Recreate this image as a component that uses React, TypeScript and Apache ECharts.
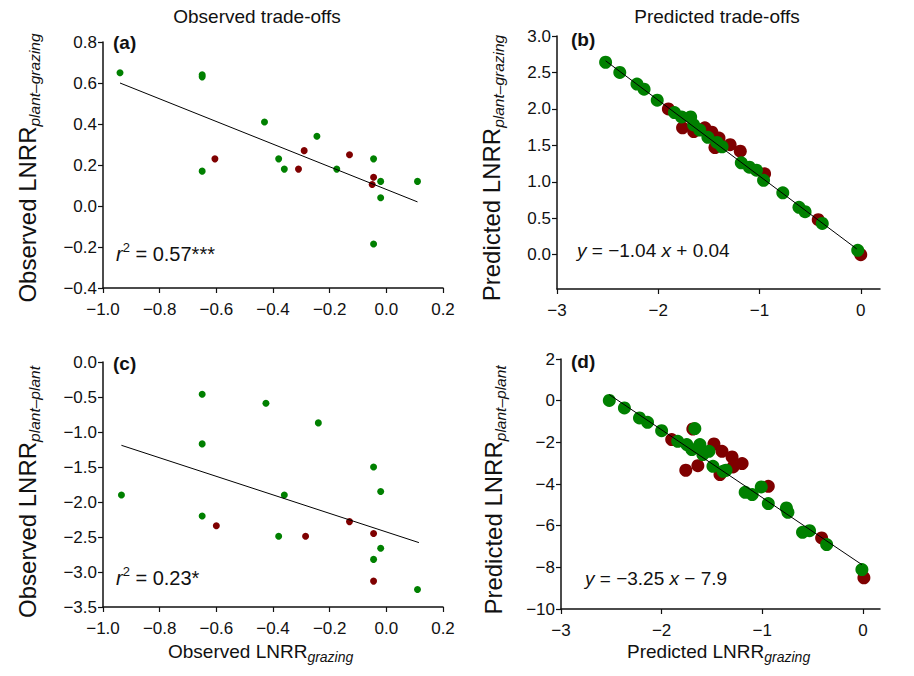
import React, { useEffect, useRef } from "react";
import * as echarts from "echarts";

// ---- data ----
const aGreen: number[][] = [
  [-0.94, 0.65], [-0.65, 0.64], [-0.65, 0.63], [-0.65, 0.17], [-0.43, 0.41],
  [-0.38, 0.23], [-0.36, 0.18], [-0.245, 0.34], [-0.175, 0.18], [-0.045, 0.23],
  [-0.02, 0.12], [-0.02, 0.04], [0.11, 0.12], [-0.045, -0.185],
];
const aRed: number[][] = [
  [-0.605, 0.23], [-0.29, 0.27], [-0.31, 0.18], [-0.13, 0.25], [-0.045, 0.14], [-0.05, 0.105],
];
const aLine: number[][] = [[-0.94, 0.6], [0.11, 0.02]];

const cGreen: number[][] = [
  [-0.65, -0.46], [-0.425, -0.59], [-0.24, -0.87], [-0.65, -1.17], [-0.045, -1.5],
  [-0.02, -1.85], [-0.935, -1.9], [-0.36, -1.9], [-0.65, -2.2], [-0.38, -2.49],
  [-0.02, -2.66], [-0.045, -2.82], [0.11, -3.25],
];
const cRed: number[][] = [
  [-0.6, -2.34], [-0.285, -2.49], [-0.13, -2.28], [-0.045, -2.45], [-0.045, -3.13],
];
const cLine: number[][] = [[-0.935, -1.19], [0.115, -2.58]];

const bGreen: number[][] = [
  [-2.52, 2.64], [-2.38, 2.5], [-2.21, 2.34], [-2.14, 2.27], [-2.01, 2.12],
  [-1.84, 1.95], [-1.77, 1.89], [-1.68, 1.89], [-1.65, 1.78], [-1.59, 1.71],
  [-1.51, 1.61], [-1.42, 1.54], [-1.37, 1.48], [-1.18, 1.26], [-1.1, 1.2],
  [-1.03, 1.16], [-0.96, 1.02], [-0.77, 0.85], [-0.61, 0.65], [-0.55, 0.59],
  [-0.38, 0.43], [-0.03, 0.06],
];
const bRed: number[][] = [
  [-1.9, 2.0], [-1.76, 1.74], [-1.65, 1.69], [-1.54, 1.74], [-1.47, 1.68],
  [-1.4, 1.6], [-1.44, 1.47], [-1.29, 1.51], [-1.19, 1.42], [-0.95, 1.11],
  [-0.42, 0.48], [0.0, 0.0],
];
const bLine: number[][] = [[-2.52, 2.66], [-0.04, 0.08]];

const dGreen: number[][] = [
  [-2.52, 0.01], [-2.37, -0.35], [-2.22, -0.83], [-2.14, -1.04], [-2.0, -1.44],
  [-1.67, -1.34], [-1.84, -1.95], [-1.75, -2.11], [-1.7, -2.35], [-1.62, -2.11],
  [-1.59, -2.59], [-1.53, -2.43], [-1.49, -3.15], [-1.39, -3.39], [-1.36, -3.34],
  [-1.17, -4.4], [-1.1, -4.51], [-1.01, -4.14], [-0.94, -4.94], [-0.76, -5.15],
  [-0.745, -5.36], [-0.6, -6.32], [-0.53, -6.24], [-0.36, -6.91], [-0.01, -8.11],
];
const dRed: number[][] = [
  [-1.9, -1.87], [-1.76, -3.34], [-1.64, -3.12], [-1.69, -1.36], [-1.48, -2.08],
  [-1.4, -2.43], [-1.3, -2.7], [-1.29, -3.18], [-1.2, -3.02], [-1.42, -3.55],
  [-0.94, -4.11], [-0.41, -6.59], [0.01, -8.5],
];
const dLine: number[][] = [[-2.52, 0.29], [-0.01, -7.87]];

const obsXTicks = [-1.0, -0.8, -0.6, -0.4, -0.2, 0.0, 0.2];
const aYTicks = [-0.4, -0.2, 0.0, 0.2, 0.4, 0.6, 0.8];
const cYTicks = [-3.5, -3.0, -2.5, -2.0, -1.5, -1.0, -0.5, 0.0];
const predXTicks = [-3, -2, -1, 0];
const bYTicks = [0.0, 0.5, 1.0, 1.5, 2.0, 2.5, 3.0];
const dYTicks = [-10, -8, -6, -4, -2, 0, 2];

const GREEN = "#008000";
const RED = "#7f0000";
const FONT_NAME = "Liberation Sans";
const FONT = "'Liberation Sans', Arial, sans-serif";
const INK = "#111";

const fmt = (d: number) => (v: number) => {
  const s = Math.abs(v).toFixed(d);
  return v < -1e-9 ? "\u2212" + s : s;
};

function axis(gridIndex: number, min: number, max: number, ticks: number[], dec: number, margin: number) {
  return {
    type: "value",
    gridIndex,
    min,
    max,
    axisLine: { show: true, onZero: false, lineStyle: { color: INK, width: 1.5 } },
    axisTick: { show: true, length: 5, customValues: ticks, lineStyle: { color: INK, width: 1.2 } },
    axisLabel: {
      customValues: ticks,
      formatter: fmt(dec),
      color: INK,
      fontSize: 17,
      fontFamily: FONT,
      margin,
    },
    splitLine: { show: false },
  };
}

function scatter(data: number[][], idx: number, color: string, size: number) {
  return {
    type: "scatter",
    xAxisIndex: idx,
    yAxisIndex: idx,
    data,
    symbolSize: size,
    itemStyle: { color, opacity: 1 },
    z: 2,
  };
}
function line(data: number[][], idx: number) {
  return {
    type: "line",
    xAxisIndex: idx,
    yAxisIndex: idx,
    data,
    symbol: "none",
    lineStyle: { color: "#000", width: 1 },
    z: 5,
  };
}

type Part = { t: string; size: number; italic?: boolean; bold?: boolean; dy?: number };

let measureCtx: CanvasRenderingContext2D | null = null;
function fontOf(p: Part) {
  return `${p.italic ? "italic " : ""}${p.bold ? "bold " : ""}${p.size}px ${FONT}`;
}
function measure(p: Part) {
  if (!measureCtx) measureCtx = document.createElement("canvas").getContext("2d");
  measureCtx!.font = `${p.italic ? "italic " : ""}${p.bold ? "bold " : ""}${p.size}px "${FONT_NAME}"`;
  return measureCtx!.measureText(p.t).width;
}

function runs(x: number, y: number, parts: Part[], align: "left" | "center" = "left", rotation = 0) {
  const widths = parts.map(measure);
  const total = widths.reduce((a, b) => a + b, 0);
  let cur = align === "center" ? -total / 2 : 0;
  const children = parts.map((p, i) => {
    const el = {
      type: "text",
      x: cur,
      y: p.dy || 0,
      style: {
        text: p.t,
        font: fontOf(p),
        fill: INK,
        align: "left",
        textAlign: "left",
        verticalAlign: "middle",
        textVerticalAlign: "middle",
      },
    };
    cur += widths[i];
    return el;
  });
  return { type: "group", x, y, rotation, z: 10, children };
}

const yName = (main: string, sub: string): Part[] => [
  { t: main, size: 24 },
  { t: sub, size: 15.5, italic: true, dy: 7 },
];
const xName = (main: string, sub: string): Part[] => [
  { t: main, size: 19 },
  { t: sub, size: 14, italic: true, dy: 6 },
];
const rSq = (val: string): Part[] => [
  { t: "r", size: 20, italic: true },
  { t: "2", size: 13, dy: -7 },
  { t: " = " + val, size: 20 },
];

export default function App() {
  const ref = useRef<HTMLDivElement>(null);
  useEffect(() => {
    if (!ref.current) return;
    const chart = echarts.init(ref.current, undefined, { renderer: "svg" });
    const option: any = {
      animation: false,
      backgroundColor: "#fff",
      grid: [
        { left: 103, top: 42, width: 340, height: 246, outerBoundsMode: "none" },
        { left: 557, top: 36, width: 323, height: 253, outerBoundsMode: "none" },
        { left: 103, top: 362, width: 340, height: 245, outerBoundsMode: "none" },
        { left: 561, top: 359, width: 319, height: 250, outerBoundsMode: "none" },
      ],
      xAxis: [
        axis(0, -1.0, 0.2, obsXTicks, 1, 13),
        axis(1, -3, 0.19, predXTicks, 0, 13),
        axis(2, -1.0, 0.2, obsXTicks, 1, 13),
        axis(3, -3, 0.17, predXTicks, 0, 13),
      ],
      yAxis: [
        axis(0, -0.4, 0.8, aYTicks, 1, 6),
        axis(1, -0.47, 3.0, bYTicks, 1, 6),
        axis(2, -3.5, 0.0, cYTicks, 1, 6),
        axis(3, -10, 2, dYTicks, 0, 6),
      ],
      series: [
        scatter(aRed, 0, RED, 7),
        scatter(aGreen, 0, GREEN, 7),
        line(aLine, 0),
        scatter(bRed, 1, RED, 13),
        scatter(bGreen, 1, GREEN, 13),
        line(bLine, 1),
        scatter(cRed, 2, RED, 7),
        scatter(cGreen, 2, GREEN, 7),
        line(cLine, 2),
        scatter(dRed, 3, RED, 13),
        scatter(dGreen, 3, GREEN, 13),
        line(dLine, 3),
      ],
      graphic: [
        runs(257, 16, [{ t: "Observed trade-offs", size: 19 }], "center"),
        runs(717, 16, [{ t: "Predicted trade-offs", size: 19 }], "center"),
        runs(113, 42, [{ t: "(a)", size: 19, bold: true }]),
        runs(571, 39, [{ t: "(b)", size: 19, bold: true }]),
        runs(113, 363, [{ t: "(c)", size: 19, bold: true }]),
        runs(571, 361, [{ t: "(d)", size: 19, bold: true }]),
        runs(116, 254, rSq("0.57***")),
        runs(116, 578, rSq("0.23*")),
        runs(577, 250, [
          { t: "y", size: 19, italic: true },
          { t: " = \u22121.04 ", size: 19 },
          { t: "x", size: 19, italic: true },
          { t: " + 0.04", size: 19 },
        ]),
        runs(585, 578, [
          { t: "y", size: 19, italic: true },
          { t: " = \u22123.25 ", size: 19 },
          { t: "x", size: 19, italic: true },
          { t: " \u2212 7.9", size: 19 },
        ]),
        runs(27, 168, yName("Observed LNRR", "plant\u2013grazing"), "center", Math.PI / 2),
        runs(491, 168, yName("Predicted LNRR", "plant\u2013grazing"), "center", Math.PI / 2),
        runs(27, 492, yName("Observed LNRR", "plant\u2013plant"), "center", Math.PI / 2),
        runs(493, 490, yName("Predicted LNRR", "plant\u2013plant"), "center", Math.PI / 2),
        runs(168, 651, xName("Observed LNRR", "grazing")),
        runs(627, 651, xName("Predicted LNRR", "grazing")),
      ],
    };
    chart.setOption(option);
    return () => chart.dispose();
  }, []);
  return (
    <div
      ref={ref}
      style={{ position: "fixed", left: 0, top: 0, width: 914, height: 676, background: "#fff" }}
    />
  );
}
